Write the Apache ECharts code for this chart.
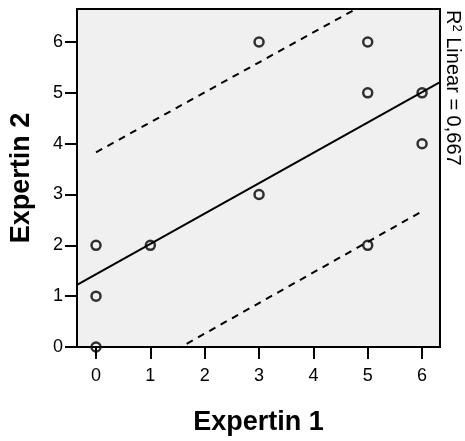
<!DOCTYPE html>
<html><head><meta charset="utf-8">
<script src="https://cdn.jsdelivr.net/npm/echarts@6/dist/echarts.min.js"></script>
<style>html,body{margin:0;padding:0;background:#fff}#c{width:465px;height:441px}</style>
</head><body><div id="c"></div>
<script>
// Data
const expertin1 = [0, 0, 0, 1, 3, 3, 5, 5, 5, 6, 6];
const expertin2 = [0, 1, 2, 2, 3, 6, 2, 5, 6, 4, 5];
const xTicks = [0, 1, 2, 3, 4, 5, 6];
const yTicks = [0, 1, 2, 3, 4, 5, 6];
// fit line and prediction bounds, endpoints
const fitX = [-0.35, 6.33];
const fitY = [1.22, 5.21];
const upperX = [0, 6];
const upperY = [3.83, 7.37];
const lowerX = [0, 6];
const lowerY = [-0.94, 2.67];
const r2Text = 'Linear = 0,667';

const pts = expertin1.map((x, i) => [x, expertin2[i]]);
const pair = (xs, ys) => xs.map((x, i) => [x, ys[i]]);

const chart = echarts.init(document.getElementById('c'), null, {renderer: 'canvas'});
const FONT = '"Liberation Sans", Arial, Helvetica, sans-serif';
chart.setOption({
  animation: false,
  grid: {left: 76, top: 9, right: 25, bottom: 90, show: true, backgroundColor: '#f0f0f0', borderColor: '#000', borderWidth: 2},
  xAxis: {
    type: 'value', min: -0.35, max: 6.33,
    name: 'Expertin 1', nameLocation: 'middle', nameGap: 62,
    nameTextStyle: {fontFamily: FONT, fontWeight: 'bold', fontSize: 27, color: '#000'},
    axisLine: {show: true, onZero: false, lineStyle: {color: '#000', width: 2}},
    axisTick: {show: true, length: 12, customValues: xTicks, lineStyle: {color: '#000', width: 2}},
    axisLabel: {customValues: xTicks, fontFamily: FONT, fontSize: 18, color: '#000', margin: 20},
    splitLine: {show: false}
  },
  yAxis: {
    type: 'value', min: 0, max: 6.65,
    name: 'Expertin 2', nameLocation: 'middle', nameGap: 42, nameRotate: 90,
    nameTextStyle: {fontFamily: FONT, fontWeight: 'bold', fontSize: 27, color: '#000'},
    axisLine: {show: true, onZero: false, lineStyle: {color: '#000', width: 2}},
    axisTick: {show: true, length: 12, customValues: yTicks, lineStyle: {color: '#000', width: 2}},
    axisLabel: {customValues: yTicks, fontFamily: FONT, fontSize: 18, color: '#000', margin: 14},
    splitLine: {show: false}
  },
  graphic: [{
    type: 'text', left: 443, top: 10, rotation: -Math.PI / 2, originX: 0, originY: 0,
    style: {
      text: '{r|R}{s|2}{n| ' + r2Text + '}',
      rich: {
        r: {fontFamily: FONT, fontSize: 20, fill: '#000'},
        s: {fontFamily: FONT, fontSize: 13, fill: '#000', padding: [0, 0, 8, 0]},
        n: {fontFamily: FONT, fontSize: 20, fill: '#000'}
      }
    }
  }],
  series: [
    {type: 'line', data: pair(upperX, upperY), symbol: 'none', clip: true, lineStyle: {color: '#000', width: 2, type: [7, 6]}, z: 3},
    {type: 'line', data: pair(lowerX, lowerY), symbol: 'none', clip: true, lineStyle: {color: '#000', width: 2, type: [7, 6]}, z: 3},
    {type: 'line', data: pair(fitX, fitY), symbol: 'none', clip: true, lineStyle: {color: '#000', width: 2}, z: 3},
    {type: 'scatter', data: pts, symbol: 'circle', symbolSize: 9, clip: false,
     itemStyle: {color: 'rgba(0,0,0,0)', borderColor: '#000', borderWidth: 2.5}, z: 4}
  ]
});
</script></body></html>
